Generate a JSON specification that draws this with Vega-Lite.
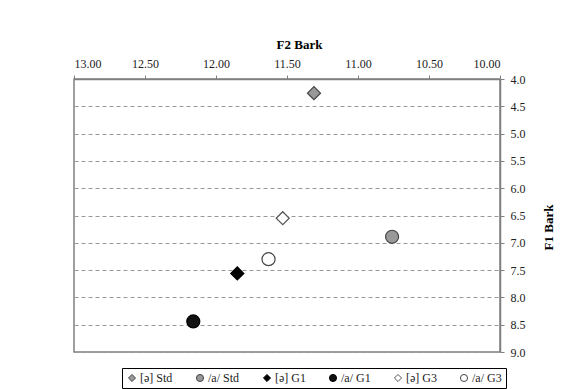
{
  "$schema": "https://vega.github.io/schema/vega-lite/v6.json",
  "width": 426,
  "height": 273,
  "autosize": {"type": "none"},
  "padding": {"left": 74, "top": 79, "right": 81, "bottom": 37},
  "background": "white",
  "config": {
    "font": "Liberation Serif",
    "view": {"stroke": "#808080", "strokeWidth": 1.5},
    "axis": {
      "labelFont": "Liberation Serif",
      "titleFont": "Liberation Serif",
      "labelFontSize": 12,
      "labelColor": "#222222",
      "titleFontSize": 13,
      "titleFontWeight": "bold",
      "titleColor": "#000000",
      "domainColor": "#808080",
      "domainWidth": 1.5,
      "tickColor": "#808080",
      "tickSize": 4
    },
    "legend": {
      "labelFont": "Liberation Serif",
      "labelFontSize": 12,
      "labelColor": "#222222"
    },
    "text": {"font": "Liberation Serif"}
  },
  "data": {
    "values": [
      {"series": "[ə] Std", "f2": 11.31, "f1": 4.26},
      {"series": "/a/ Std", "f2": 10.76, "f1": 6.89},
      {"series": "[ə] G1", "f2": 11.85, "f1": 7.56},
      {"series": "/a/ G1", "f2": 12.16, "f1": 8.44},
      {"series": "[ə] G3", "f2": 11.53, "f1": 6.55},
      {"series": "/a/ G3", "f2": 11.63, "f1": 7.30}
    ]
  },
  "mark": {"type": "point", "filled": false, "size": 170, "strokeWidth": 1.2, "opacity": 1},
  "encoding": {
    "x": {
      "field": "f2",
      "type": "quantitative",
      "scale": {"domain": [10, 13], "reverse": true, "nice": false, "zero": false},
      "axis": {
        "orient": "top",
        "title": "F2 Bark",
        "values": [10, 10.5, 11, 11.5, 12, 12.5, 13],
        "format": ".2f",
        "grid": false,
        "labelFont": "Liberation Serif",
        "labelPadding": 5,
        "titleFont": "Liberation Serif",
        "titlePadding": 6,
        "titleX": 225
      }
    },
    "y": {
      "field": "f1",
      "type": "quantitative",
      "scale": {"domain": [4, 9], "reverse": true, "nice": false, "zero": false},
      "axis": {
        "orient": "right",
        "title": "F1 Bark",
        "values": [4, 4.5, 5, 5.5, 6, 6.5, 7, 7.5, 8, 8.5, 9],
        "format": ".1f",
        "grid": true,
        "gridColor": "#999999",
        "gridDash": [4, 3],
        "gridWidth": 1.2,
        "labelFont": "Liberation Serif",
        "labelPadding": 6,
        "titleFont": "Liberation Serif",
        "titleAngle": 270,
        "titleX": 48,
        "titleY": 148,
        "titleAlign": "center",
        "titleBaseline": "middle"
      }
    },
    "shape": {
      "field": "series",
      "type": "nominal",
      "sort": null,
      "scale": {
        "domain": ["[ə] Std", "/a/ Std", "[ə] G1", "/a/ G1", "[ə] G3", "/a/ G3"],
        "range": ["diamond", "circle", "diamond", "circle", "diamond", "circle"]
      },
      "legend": {
        "orient": "none",
        "direction": "horizontal",
        "title": null,
        "legendX": 48,
        "legendY": 289,
        "strokeColor": "#000000",
        "padding": 4,
        "symbolSize": 50,
        "columnPadding": 21,
        "labelOffset": 2,
        "labelFont": "Liberation Serif",
        "symbolStrokeWidth": 1
      }
    },
    "fill": {
      "field": "series",
      "type": "nominal",
      "sort": null,
      "scale": {
        "domain": ["[ə] Std", "/a/ Std", "[ə] G1", "/a/ G1", "[ə] G3", "/a/ G3"],
        "range": ["#999999", "#999999", "#000000", "#111111", "#ffffff", "#ffffff"]
      }
    },
    "stroke": {
      "field": "series",
      "type": "nominal",
      "sort": null,
      "scale": {
        "domain": ["[ə] Std", "/a/ Std", "[ə] G1", "/a/ G1", "[ə] G3", "/a/ G3"],
        "range": ["#444444", "#444444", "#000000", "#000000", "#555555", "#444444"]
      }
    }
  }
}
